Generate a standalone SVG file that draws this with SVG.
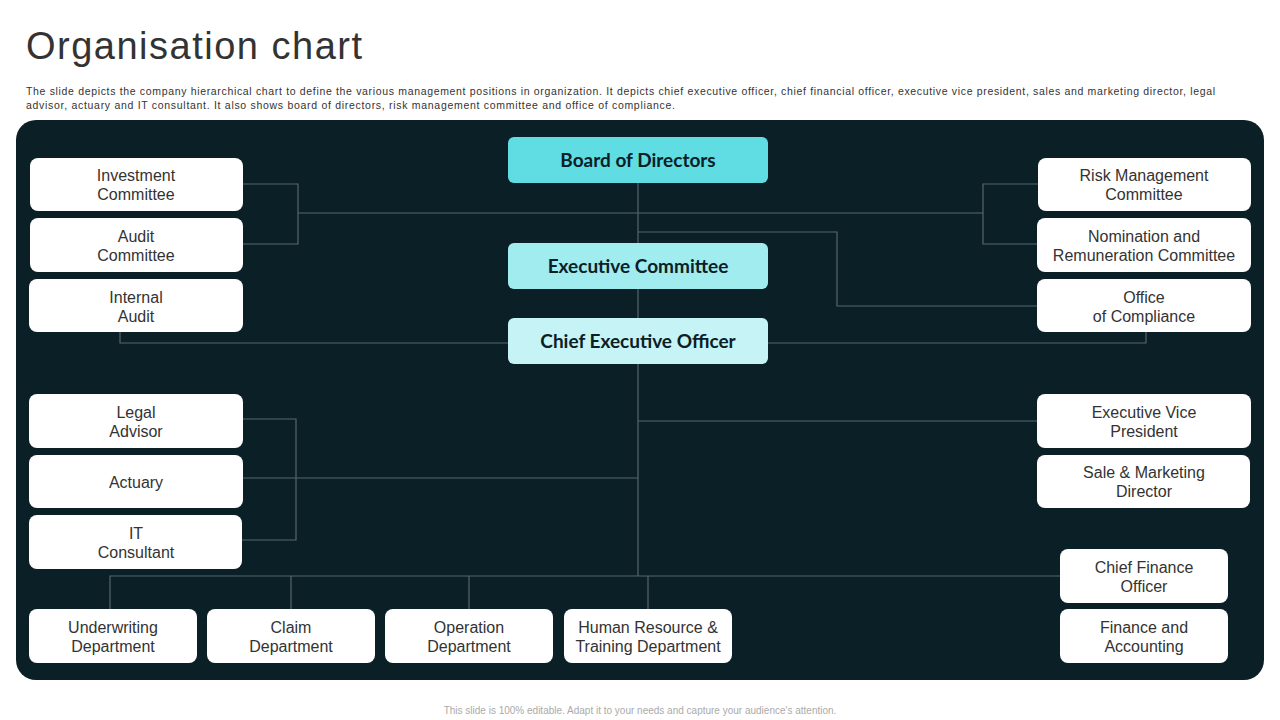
<svg xmlns="http://www.w3.org/2000/svg" width="1280" height="720" viewBox="0 0 1280 720">
<style>
.t{font-family:"Liberation Sans",Arial,sans-serif;fill:#333}
.w{fill:#fff}
.n{font-family:"Liberation Sans",Arial,sans-serif;font-size:16px;fill:#333;text-anchor:middle}
.b{font-family:"Lato","Noto Sans",sans-serif;font-size:19px;font-weight:bold;fill:#0b2026;text-anchor:middle}
#conn path{fill:none;stroke:#56666a;stroke-width:1.2}
</style>
<rect width="1280" height="720" fill="#fff"/>
<text class="t" x="26" y="59" font-size="38" font-family="Lato, sans-serif" font-weight="300" textLength="336">Organisation chart</text>
<text class="t" x="26" y="95" font-size="10.5" textLength="1189">The slide depicts the company hierarchical chart to define the various management positions in organization. It depicts chief executive officer, chief financial officer, executive vice president, sales and marketing director, legal</text>
<text class="t" x="26" y="109" font-size="10.5" textLength="649">advisor, actuary and IT consultant. It also shows board of directors, risk management committee and office of compliance.</text>
<rect x="16" y="120" width="1248" height="560" rx="20" fill="#0b2026"/>
<g id="conn">
<path d="M638 183V576"/>
<path d="M243 184H298V244H243M298 213H983M1038 184H983V244H1038"/>
<path d="M638 232H837V306H1037"/>
<path d="M120 332V343H508M1146 332V343H768"/>
<path d="M243 419H296V540H242M243 478H638"/>
<path d="M638 421H1037"/>
<path d="M1060 576H110V609M291 576V609M469 576V609M648 576V609"/>
</g>
<g id="board"><rect x="508" y="137" width="260" height="46" rx="6" fill="#5fdde3"/><text class="b" x="638" y="167">Board of Directors</text></g>
<g id="exec"><rect x="508" y="243" width="260" height="46" rx="6" fill="#a0ecef"/><text class="b" x="638" y="273">Executive Committee</text></g>
<g id="ceo"><rect x="508" y="318" width="260" height="46" rx="6" fill="#c6f3f5"/><text class="b" x="638" y="348">Chief Executive Officer</text></g>
<g id="invest"><rect class="w" x="30" y="158" width="213" height="53" rx="8"/><text class="n" x="136" y="181">Investment</text><text class="n" x="136" y="200">Committee</text></g>
<g id="audit"><rect class="w" x="30" y="218" width="213" height="54" rx="8"/><text class="n" x="136" y="242">Audit</text><text class="n" x="136" y="261">Committee</text></g>
<g id="internal"><rect class="w" x="29" y="279" width="214" height="53" rx="8"/><text class="n" x="136" y="303">Internal</text><text class="n" x="136" y="322">Audit</text></g>
<g id="risk"><rect class="w" x="1038" y="158" width="213" height="53" rx="8"/><text class="n" x="1144" y="181">Risk Management</text><text class="n" x="1144" y="200">Committee</text></g>
<g id="nom"><rect class="w" x="1037" y="218" width="214" height="54" rx="8"/><text class="n" x="1144" y="242">Nomination and</text><text class="n" x="1144" y="261">Remuneration  Committee</text></g>
<g id="office"><rect class="w" x="1037" y="279" width="214" height="53" rx="8"/><text class="n" x="1144" y="303">Office</text><text class="n" x="1144" y="322">of Compliance</text></g>
<g id="legal"><rect class="w" x="29" y="394" width="214" height="54" rx="8"/><text class="n" x="136" y="418">Legal</text><text class="n" x="136" y="437">Advisor</text></g>
<g id="actuary"><rect class="w" x="29" y="455" width="214" height="53" rx="8"/><text class="n" x="136" y="488">Actuary</text></g>
<g id="it"><rect class="w" x="29" y="515" width="213" height="54" rx="8"/><text class="n" x="136" y="539">IT</text><text class="n" x="136" y="558">Consultant</text></g>
<g id="evp"><rect class="w" x="1037" y="394" width="214" height="54" rx="8"/><text class="n" x="1144" y="418">Executive  Vice</text><text class="n" x="1144" y="437">President</text></g>
<g id="sale"><rect class="w" x="1037" y="455" width="213" height="53" rx="8"/><text class="n" x="1144" y="478">Sale &amp; Marketing</text><text class="n" x="1144" y="497">Director</text></g>
<g id="cfo"><rect class="w" x="1060" y="549" width="168" height="54" rx="8"/><text class="n" x="1144" y="573">Chief Finance</text><text class="n" x="1144" y="592">Officer</text></g>
<g id="fin"><rect class="w" x="1060" y="609" width="168" height="54" rx="8"/><text class="n" x="1144" y="633">Finance and</text><text class="n" x="1144" y="652">Accounting</text></g>
<g id="uw"><rect class="w" x="29" y="609" width="168" height="54" rx="8"/><text class="n" x="113" y="633">Underwriting</text><text class="n" x="113" y="652">Department</text></g>
<g id="claim"><rect class="w" x="207" y="609" width="168" height="54" rx="8"/><text class="n" x="291" y="633">Claim</text><text class="n" x="291" y="652">Department</text></g>
<g id="op"><rect class="w" x="385" y="609" width="168" height="54" rx="8"/><text class="n" x="469" y="633">Operation</text><text class="n" x="469" y="652">Department</text></g>
<g id="hr"><rect class="w" x="564" y="609" width="168" height="54" rx="8"/><text class="n" x="648" y="633">Human Resource &amp;</text><text class="n" x="648" y="652">Training Department</text></g>
<text x="640" y="714" font-family="Liberation Sans, Arial, sans-serif" font-size="10" text-anchor="middle" fill="#aaa">This slide is 100% editable. Adapt it to your needs and capture your audience's attention.</text>
</svg>
